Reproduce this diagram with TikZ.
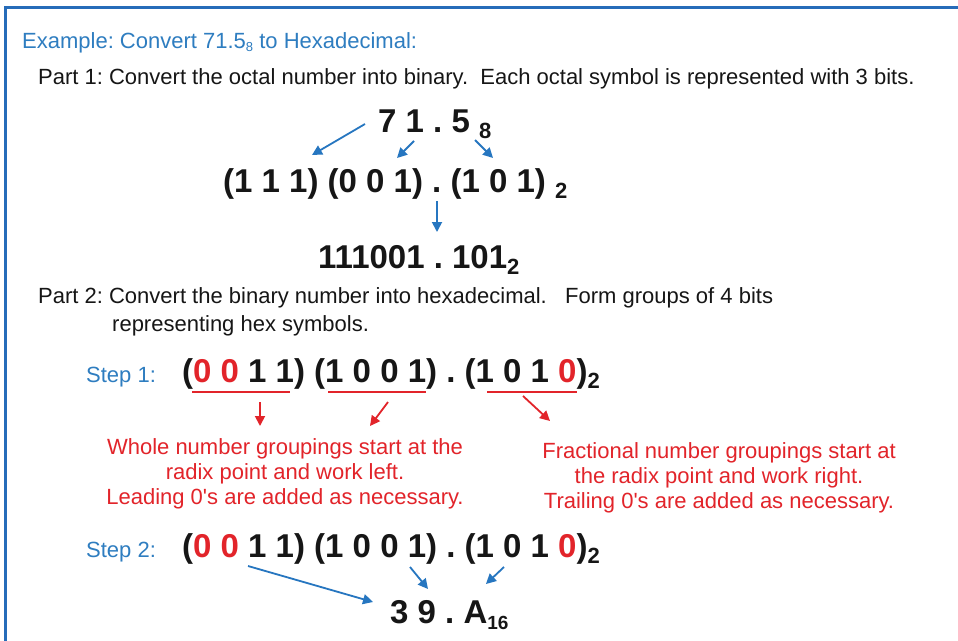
\documentclass[tikz,border=0pt]{standalone}
\usepackage{fontspec}
\setmainfont{Liberation Sans}
\usetikzlibrary{arrows.meta}
\definecolor{frameblue}{RGB}{38,108,185}
\definecolor{txtblue}{RGB}{46,125,192}
\definecolor{arrblue}{RGB}{38,118,192}
\definecolor{redc}{RGB}{226,36,42}
\definecolor{ink}{RGB}{22,22,22}
\newcommand{\bsub}[1]{{\fontsize{22}{22}\selectfont\raisebox{-6pt}{#1}}}
\newcommand{\hsub}[1]{{\fontsize{19}{19}\selectfont\raisebox{-6pt}{#1}}}
\newcommand{\tsub}[1]{{\fontsize{13}{13}\selectfont\raisebox{-3pt}{#1}}}
\newcommand{\rz}{\textcolor{redc}{0}}
\frenchspacing
\begin{document}
\begin{tikzpicture}[x=1pt,y=-1pt,
  txt/.style={inner sep=0pt, anchor=base west, font=\fontsize{22}{26}\selectfont, text=ink},
  ctxt/.style={inner sep=0pt, anchor=base, font=\fontsize{22}{26}\selectfont, text=redc},
  big/.style={inner sep=0pt, anchor=base west, font=\fontsize{33}{36}\selectfont\bfseries, text=ink},
  barr/.style={draw=arrblue, line width=1.8pt, -{Triangle[length=10pt,width=10pt]}},
  rarr/.style={draw=redc, line width=1.8pt, -{Triangle[length=10pt,width=10pt]}},
  uline/.style={draw=redc, line width=1.6pt}]
\useasboundingbox (0,0) rectangle (958,640);
\fill[white] (0,0) rectangle (958,640);
\draw[frameblue, line width=3pt] (5,641) -- (5,7) -- (959,7);

% Part 1
\node[txt, text=txtblue] (title) at (22,48) {Example: Convert 71.5\tsub{8} to Hexadecimal:};
\node[txt] (part1) at (38,84) {Part 1: Convert the octal number into binary.\ \ Each octal symbol is represented with 3 bits.};
\node[big] (oct) at (378,132) {7 1 . 5 \bsub{8}};
\node[big] (bin3) at (223,192) {(1 1 1) (0 0 1) . (1 0 1) \bsub{2}};
\node[big] (bin) at (318,268) {111001 . 101\bsub{2}};

\coordinate (o7) at (365,124); \coordinate (g7) at (312,155);
\coordinate (o1) at (414,141); \coordinate (g1) at (397,158);
\coordinate (o5) at (475,140); \coordinate (g5) at (493,158);
\coordinate (dtop) at (437,201); \coordinate (dbot) at (437,232);
\draw[barr] (o7) -- (g7);
\draw[barr] (o1) -- (g1);
\draw[barr] (o5) -- (g5);
\draw[barr] (dtop) -- (dbot);

% Part 2
\node[txt] (part2) at (38,303) {Part 2: Convert the binary number into hexadecimal.\ \ \ Form groups of 4 bits};
\node[txt] (part2b) at (112,331) {representing hex symbols.};

\node[txt, text=txtblue] (step1) at (86,382) {Step 1:};
\node[big] (s1) at (182,382) {(\rz{} \rz{} 1 1) (1 0 0 1) . (1 0 1 \rz)\bsub{2}};

\coordinate (u1a) at (192,392); \coordinate (u1b) at (290,392);
\coordinate (u2a) at (328,392); \coordinate (u2b) at (426,392);
\coordinate (u3a) at (487,392); \coordinate (u3b) at (577,392);
\draw[uline] (u1a) -- (u1b);
\draw[uline] (u2a) -- (u2b);
\draw[uline] (u3a) -- (u3b);

\coordinate (r1s) at (260,402); \coordinate (r1e) at (260,426);
\coordinate (r2s) at (388,402); \coordinate (r2e) at (370,426);
\coordinate (r3s) at (523,396); \coordinate (r3e) at (550,421);
\draw[rarr] (r1s) -- (r1e);
\draw[rarr] (r2s) -- (r2e);
\draw[rarr] (r3s) -- (r3e);

\node[ctxt] (w1) at (285,454) {Whole number groupings start at the};
\node[ctxt] (w2) at (285,479) {radix point and work left.};
\node[ctxt] (w3) at (285,504) {Leading 0\textquotesingle s are added as necessary.};
\node[ctxt] (f1) at (719,458) {Fractional number groupings start at};
\node[ctxt] (f2) at (719,483) {the radix point and work right.};
\node[ctxt] (f3) at (719,508) {Trailing 0\textquotesingle s are added as necessary.};

\node[txt, text=txtblue] (step2) at (86,557) {Step 2:};
\node[big] (s2) at (182,557) {(\rz{} \rz{} 1 1) (1 0 0 1) . (1 0 1 \rz)\bsub{2}};
\node[big] (hex) at (390,623) {3 9 . A\hsub{16}};

\coordinate (h3s) at (248,566); \coordinate (h3e) at (373,602);
\coordinate (h9s) at (410,567); \coordinate (h9e) at (428,589);
\coordinate (hAs) at (504,567); \coordinate (hAe) at (486,584);
\draw[barr] (h3s) -- (h3e);
\draw[barr] (h9s) -- (h9e);
\draw[barr] (hAs) -- (hAe);
\end{tikzpicture}
\end{document}
